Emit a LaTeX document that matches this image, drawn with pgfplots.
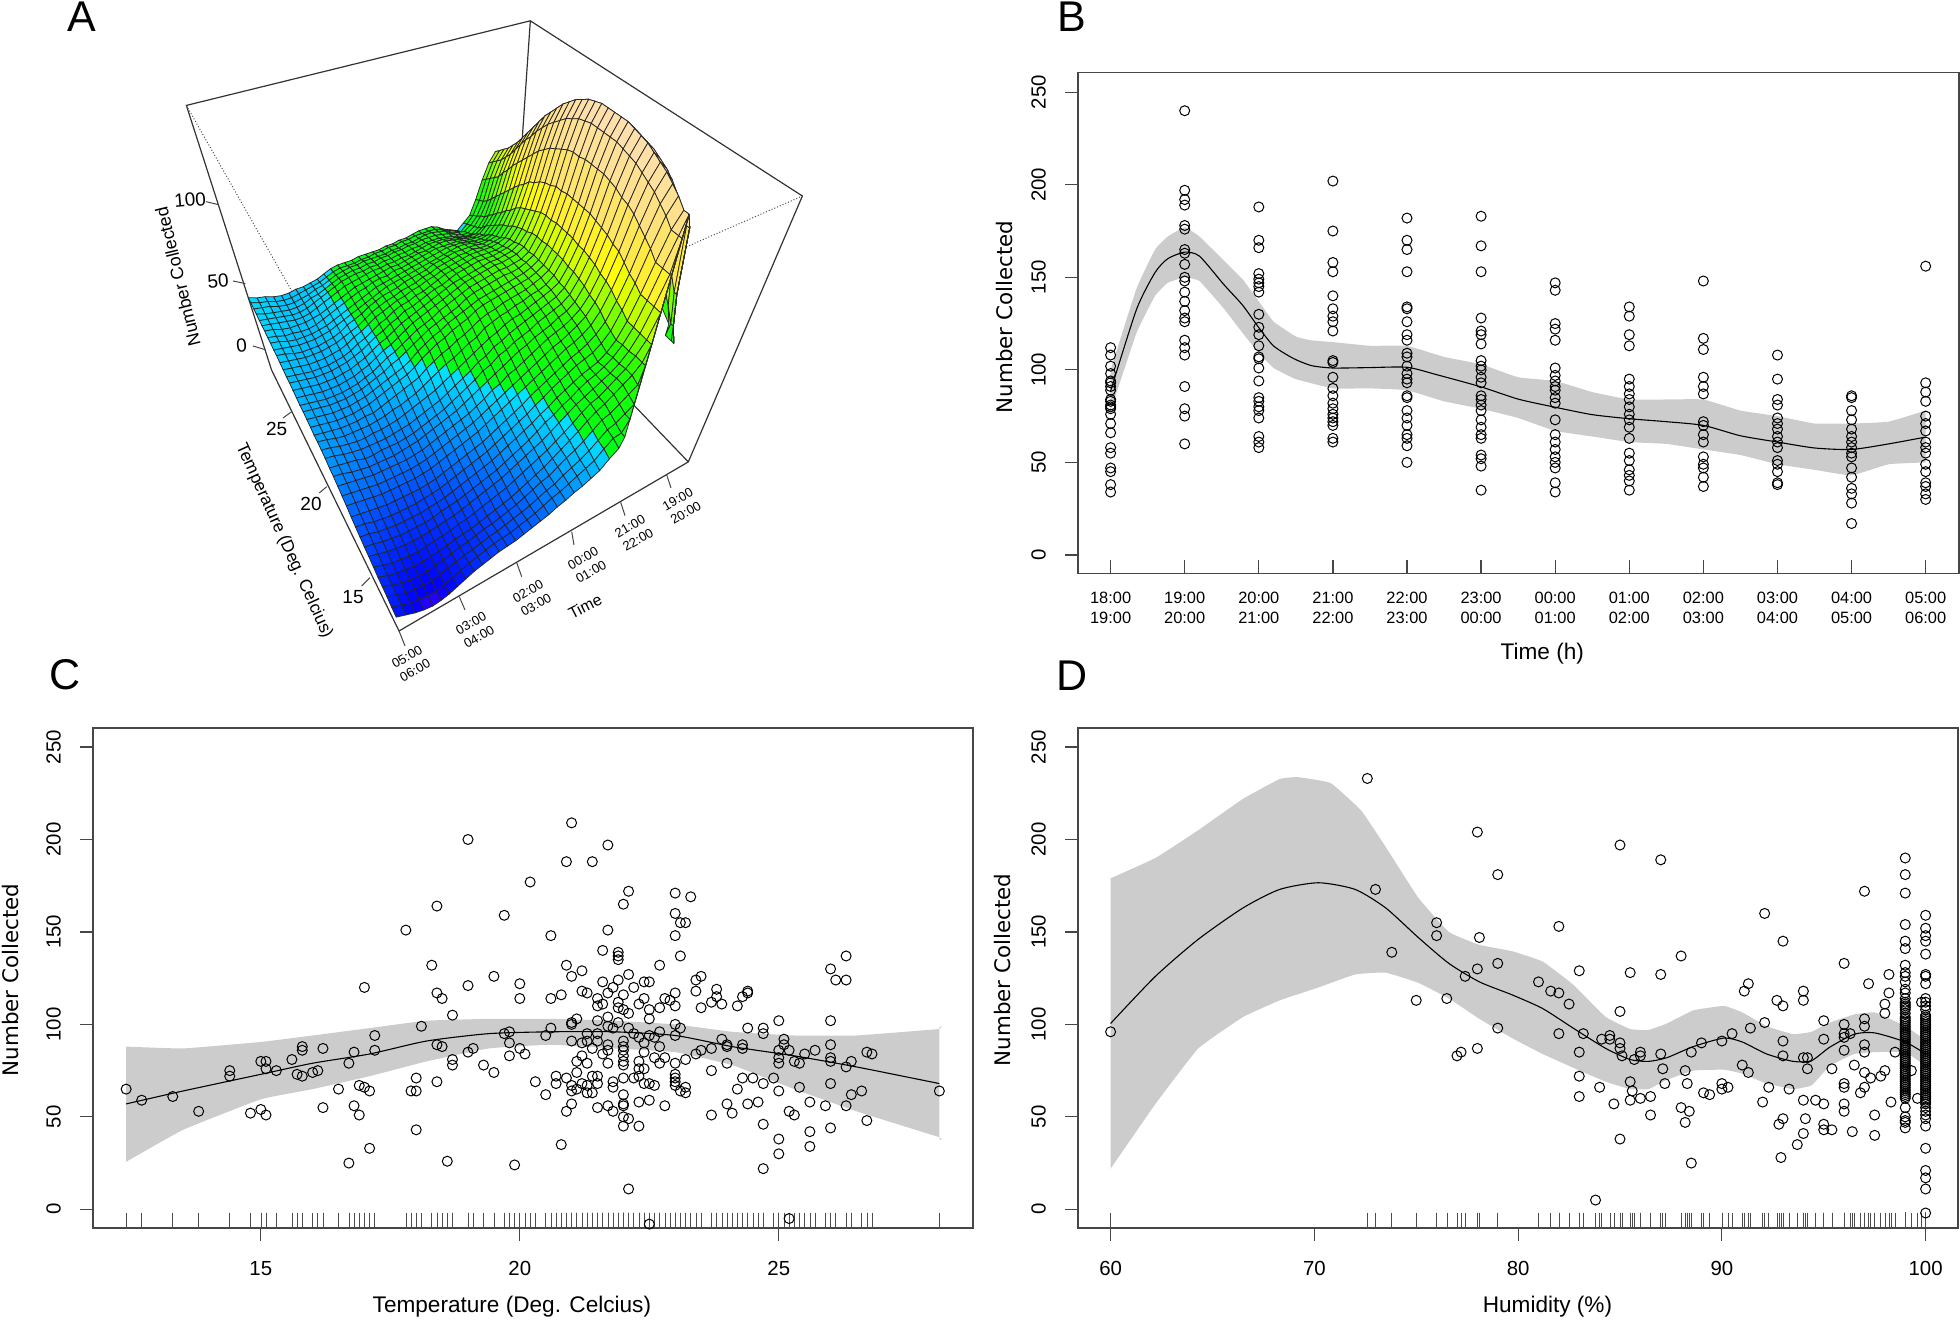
\documentclass[border=0pt]{standalone}
\usepackage{pgfplots}
\usepackage{pgfplotstable}
\pgfplotsset{compat=1.18}
\usepackage{fontspec}
\setmainfont{Liberation Sans}
\newfontfamily\djv{DejaVu Sans}
\definecolor{band}{RGB}{204,204,204}
\definecolor{axc}{RGB}{70,70,70}
\def\U{((40-mod(\coordindex,41))/40)}
\def\V{(min(floor(\coordindex/41)/40,max(.81,min(1,1-.76*(\U-.66)))))}
\def\W{(.11+.00598*\thisrow{z})}
\tikzset{
 xl/.style={font=\fontsize{11.3}{13}\selectfont,anchor=center},
 yl/.style={font=\djv\fontsize{10.7}{13}\selectfont,anchor=center,rotate=90}}
\pgfplotsset{
 panel/.style={scale only axis, width=440pt, height=250pt, axis line style={draw=axc,line width=.7pt},
  tick style={draw=axc,line width=.6pt}, tick align=outside, major tick length=6.5pt, xtick pos=bottom, ytick pos=left,
  ymin=-10.1, ymax=260.3, ytick={0,50,...,250},
  /pgf/number format/assume math mode=true,
  tick label style={font=\fontsize{10.2}{12}\selectfont},
  yticklabel style={xshift=-6pt,rotate=90,anchor=south},
  xticklabel style={yshift=-6.7pt},
  ylabel={Number Collected}},
 pts/.style={only marks, mark=o, mark size=2.5pt, mark options={draw=black,line width=.5pt,fill=none}},
 rug/.style={only marks, mark=|, mark size=3.75pt, mark options={draw=black!70,line width=.3pt}},
 fit/.style={black, line width=.55pt, smooth, tension=.4, no marks},
 bandf/.style={fill=band, draw=none, no marks, smooth, tension=.2}
}
\pgfplotstableread{
i n
0 112
0 108
0 102
0 98
0 94
0 93
0 91
0 89
0 84
0 83
0 81
0 80
0 79
0 76
0 71
0 66
0 58
0 55
0 47
0 45
0 38
0 34
1 240
1 197
1 192
1 189
1 178
1 176
1 165
1 163
1 157
1 150
1 148
1 142
1 137
1 132
1 128
1 126
1 116
1 112
1 108
1 91
1 79
1 75
1 60
2 188
2 170
2 166
2 152
2 149
2 147
2 145
2 142
2 130
2 123
2 119
2 113
2 107
2 106
2 101
2 94
2 85
2 83
2 80
2 78
2 74
2 64
2 61
2 58
3 202
3 175
3 158
3 153
3 140
3 133
3 129
3 126
3 121
3 105
3 104
3 96
3 90
3 86
3 82
3 79
3 76
3 74
3 72
3 70
3 63
3 61
4 182
4 170
4 165
4 153
4 134
4 133
4 126
4 119
4 116
4 109
4 107
4 102
4 98
4 95
4 93
4 86
4 85
4 78
4 74
4 70
4 65
4 63
4 59
4 50
5 183
5 167
5 153
5 128
5 121
5 119
5 114
5 105
5 102
5 100
5 96
5 93
5 86
5 84
5 81
5 78
5 73
5 69
5 65
5 63
5 54
5 52
5 48
5 35
6 147
6 143
6 125
6 122
6 116
6 101
6 97
6 94
6 91
6 89
6 85
6 82
6 73
6 65
6 61
6 57
6 53
6 50
6 47
6 39
6 34
7 134
7 129
7 119
7 113
7 95
7 91
7 87
7 84
7 80
7 76
7 73
7 69
7 63
7 55
7 51
7 46
7 43
7 40
7 35
8 148
8 117
8 111
8 96
8 91
8 87
8 72
8 70
8 65
8 61
8 53
8 49
8 47
8 42
8 37
9 108
9 95
9 84
9 81
9 74
9 71
9 68
9 64
9 61
9 58
9 51
9 49
9 45
9 39
9 38
10 86
10 85
10 78
10 73
10 68
10 64
10 61
10 58
10 55
10 53
10 47
10 42
10 36
10 33
10 28
10 17
11 156
11 93
11 88
11 83
11 75
11 71
11 67
11 61
11 58
11 55
11 49
11 45
11 39
11 37
11 33
11 30
}\tabB
\pgfplotstableread{
t n
12.4 65
12.7 59
13.3 61
13.8 53
14.4 75
14.4 72
14.8 52
15 54
15 80
15.1 80
15.1 76
15.1 51
15.3 75
15.6 81
15.7 73
15.8 72
15.8 86
15.8 88
16 74
16.1 75
16.2 87
16.2 55
16.5 65
16.7 79
16.7 25
16.8 85
16.8 56
16.9 67
16.9 51
17 120
17 66
17.1 64
17.1 33
17.2 94
17.2 86
17.8 151
17.9 64
18 64
18 71
18 43
18.1 99
18.3 132
18.4 164
18.4 117
18.4 89
18.4 69
18.5 114
18.5 88
18.6 26
18.7 81
18.7 78
18.7 105
19 200
19 121
19 85
19.1 87
19.3 78
19.5 126
19.5 74
19.7 159
19.7 95
19.8 96
19.8 90
19.8 83
19.9 24
20 122
20 114
20 87
20.1 84
20.2 177
20.3 69
20.5 94
20.5 62
20.6 148
20.6 114
20.6 98
20.7 72
20.7 68
20.8 116
20.8 35
20.9 188
20.9 132
20.9 71
20.9 53
21 209
21 126
21 101
21 100
21 91
21 67
21 64
21 57
21.1 103
21.1 80
21.1 74
21.1 65
21.2 129
21.2 118
21.2 90
21.2 83
21.2 68
21.3 117
21.3 95
21.3 91
21.3 79
21.3 67
21.3 63
21.4 188
21.4 87
21.4 72
21.4 63
21.5 114
21.5 110
21.5 102
21.5 95
21.5 91
21.5 72
21.5 68
21.5 55
21.6 140
21.6 123
21.6 111
21.6 84
21.7 197
21.7 151
21.7 117
21.7 104
21.7 99
21.7 89
21.7 86
21.7 79
21.7 56
21.8 120
21.8 98
21.8 69
21.8 66
21.8 53
21.9 139
21.9 137
21.9 135
21.9 124
21.9 112
21.9 109
21.9 101
22 165
22 116
22 108
22 91
22 88
22 86
22 83
22 80
22 78
22 71
22 62
22 57
22 56
22 50
22 45
22.1 172
22.1 127
22.1 106
22.1 98
22.1 49
22.1 11
22.2 120
22.2 95
22.2 71
22.3 111
22.3 93
22.3 80
22.3 76
22.3 72
22.3 58
22.3 45
22.4 123
22.4 114
22.4 90
22.4 85
22.4 76
22.4 68
22.5 123
22.5 108
22.5 103
22.5 94
22.5 68
22.5 59
22.5 -8
22.6 93
22.6 82
22.6 67
22.7 132
22.7 109
22.7 96
22.7 88
22.7 79
22.8 114
22.8 82
22.8 56
22.9 113
23 171
23 160
23 148
23 117
23 110
23 100
23 94
23 79
23 73
23 71
23 69
23 67
23.1 155
23.1 137
23.1 98
23.1 64
23.2 155
23.2 81
23.2 66
23.2 63
23.3 169
23.4 124
23.4 118
23.4 84
23.5 126
23.5 109
23.5 86
23.7 112
23.7 87
23.7 75
23.7 51
23.8 119
23.8 115
23.9 111
23.9 92
24 89
24 88
24 79
24 57
24.1 52
24.2 110
24.2 65
24.3 115
24.3 89
24.3 87
24.3 71
24.4 118
24.4 117
24.4 98
24.4 57
24.5 71
24.6 58
24.7 98
24.7 95
24.7 68
24.7 46
24.7 22
24.9 71
25 102
25 86
25 82
25 79
25 64
25 38
25 30
25.1 92
25.1 89
25.2 86
25.2 53
25.2 -5
25.3 80
25.3 51
25.4 79
25.4 66
25.5 84
25.6 58
25.6 42
25.6 34
25.7 86
25.9 56
26 130
26 102
26 89
26 82
26 80
26 68
26 44
26.1 124
26.3 137
26.3 124
26.3 77
26.3 56
26.4 80
26.4 62
26.6 64
26.7 85
26.7 48
26.8 84
28.1 64
}\tabC
\pgfplotstableread{
h n
60 96
72.6 233
73 173
73.8 139
75 113
76 155
76 148
76.5 114
77 83
77.2 85
77.4 126
78 204
78 130
78 87
78.1 147
79 181
79 133
79 98
81 123
81.6 118
82 153
82 117
82 95
82.5 111
83 85
83 129
83 72
83 61
83.2 95
83.8 5
84 66
84.1 92
84.5 94
84.5 92
84.7 57
85 197
85 38
85 107
85 90
85 87
85.1 83
85.5 128
85.5 69
85.6 64
85.5 59
85.7 81
86 85
86 83
86 60
86.5 61
86.5 51
87 189
87 127
87 84
87.1 76
87.2 68
88 137
88 55
88.2 75
88.2 47
88.3 68
88.4 53
88.5 85
88.5 25
89 90
89.1 63
89.4 62
90 91
90 68
90 65
90.3 66
90.5 95
91 78
91.1 118
91.3 122
91.3 74
91.4 98
92 58
92.1 160
92.1 101
92.3 66
92.7 113
92.8 46
92.9 28
93 145
93 110
93 91
93 83
93 49
93.3 65
93.7 35
94 118
94 113
94 82
94 59
94 41
94.2 82
94.2 76
94.1 49
94.6 59
95 102
95 92
95 57
95 46
95 43
95.4 76
95.4 43
96 133
96 100
96 95
96 93
96 86
96 68
96 66
96 57
96 53
96.3 95
96.4 42
96.5 78
96.8 63
97 172
97 103
97 99
97 89
97 85
97 74
97 66
97.2 122
97.3 71
97.5 51
97.5 40
97.8 72
98 75
98 111
98 106
98.2 127
98.2 117
98.3 58
98.5 85
99.3 75
99.6 60
99.8 112
99 190
99 181
99 171
99 154
99 145
99 141
99 132
99 128
99 126
99 123
99 119
99 117
99 114
99 111
99 109
99 106
99 103
99 101
99 99
99 97
99 95
99 93
99 91
99 89
99 87
99 85
99 83
99 81
99 79
99 77
99 75
99 73
99 71
99 69
99 67
99 65
99 63
99 61
99 60
99 55
99 50
99 48
99 47
99 44
99 112
99 110
99 108
99 104
99 102
99 100
99 98
99 96
99 94
99 92
99 90
99 88
99 86
99 84
99 82
99 80
99 78
99 76
99 74
99 72
99 70
99 68
99 66
99 64
99 62
100 159
100 152
100 148
100 145
100 138
100 127
100 126
100 122
100 114
100 112
100 110
100 108
100 105
100 103
100 101
100 99
100 97
100 95
100 93
100 91
100 89
100 87
100 85
100 83
100 81
100 79
100 77
100 75
100 73
100 71
100 69
100 67
100 65
100 63
100 61
100 59
100 57
100 55
100 53
100 51
100 49
100 45
100 33
100 21
100 17
100 11
100 -2
100 104
100 102
100 100
100 98
100 96
100 94
100 92
100 90
100 88
100 86
100 84
100 82
100 80
100 78
100 76
100 74
100 72
100 70
100 68
100 66
100 64
100 62
100 60
100 58
}\tabD
\begin{document}
\begin{tikzpicture}
\path[use as bounding box] (0,0) rectangle (980pt,660pt);
% ---------- Panel A
\begin{axis}[at={(0pt,320pt)},anchor=south west,scale only axis,width=420pt,height=340pt,
 xmin=0,xmax=840,ymin=640,ymax=1320,zmin=-100,zmax=200,view={0}{90},hide axis,clip=false,
 colormap={topo}{rgb255(0pt)=(60,0,255); rgb255(2pt)=(0,0,255); rgb255(12pt)=(0,70,255); rgb255(22pt)=(0,145,255); rgb255(33.3pt)=(0,229,255); rgb255(33.4pt)=(0,255,20); rgb255(48pt)=(30,255,0); rgb255(58pt)=(160,255,0); rgb255(66pt)=(255,255,0); rgb255(72pt)=(255,235,60); rgb255(85pt)=(255,225,130); rgb255(100pt)=(255,224,179)},
 point meta min=-12, point meta max=148]
\addplot3[black!80,line width=.6pt,no marks] coordinates {(271.6,950,0) (186.4,1214.6,0) (530.4,1299.2,0) (802.5,1124,0) (688.4,858.1,0) (399.1,689,0) (271.6,950,0)};
\addplot3[black!80,line width=.6pt,no marks] coordinates {(530.4,1299.2,0) (512.7,1041.1,0) (688.4,858.1,0)};
\addplot3[black!70,line width=.5pt,densely dotted,no marks] coordinates {(186.4,1214.6,0) (350.3,925.8,0) (802.5,1124,0)};
\addplot3[surf,shader=faceted,faceted color=black!85,line width=.38pt,mesh/rows=41,mesh/cols=41,z buffer=none,point meta=\thisrow{z}]
 table[x expr={(271.6+318*\U+23.7*\V-141.1*\W)/(1+.15*\U-.26*\V-.3*\W)},
       y expr={1320-(370-49.3*\U+96.9*\V-296.2*\W)/(1+.15*\U-.26*\V-.3*\W)},z=z]{
z
55
60
68
80
84
78
68
56
46
42
38
40
42
45
47
47
47
46
45
45
44
44
43
43
43
43
42
42
42
41
39
37
36
35
35
34
34
35
37
38
40
57
62
71
84
87
81
71
58
49
44
40
42
44
46
48
48
48
48
47
47
46
46
45
45
44
44
43
43
43
42
40
38
37
36
35
34
34
35
37
38
40
59
64
73
87
90
84
74
60
51
46
43
44
45
48
49
50
50
49
48
48
47
47
46
46
46
46
45
45
44
43
41
39
38
36
35
34
34
35
37
38
39
60
66
76
90
93
87
77
63
54
48
45
45
47
49
50
51
51
51
50
50
49
49
48
48
47
47
46
46
45
44
42
40
38
37
35
34
34
35
36
37
39
62
68
78
94
97
91
80
67
56
50
47
47
48
50
51
52
52
52
51
51
50
50
49
49
48
48
47
47
46
45
43
41
39
37
35
34
34
35
36
37
38
65
71
82
98
101
95
85
71
60
53
50
50
50
52
53
54
54
54
53
52
51
51
50
50
49
49
48
47
46
45
43
41
39
37
35
34
34
35
36
37
38
67
74
86
103
106
100
89
75
63
57
53
52
53
54
55
56
56
55
54
54
53
52
51
51
50
49
48
47
46
44
42
40
38
36
35
34
34
34
35
37
38
70
77
90
108
111
105
94
79
67
60
55
55
55
56
57
57
57
57
56
55
54
53
52
52
50
50
49
47
46
44
42
40
38
36
34
33
33
34
34
36
37
72
80
94
113
116
110
98
83
70
63
58
57
57
58
59
59
59
58
57
56
55
54
53
52
51
50
49
47
45
43
41
39
37
35
34
33
33
33
34
36
37
75
83
98
118
121
114
102
87
74
66
61
59
59
60
61
61
60
59
58
57
56
55
54
53
52
51
49
47
45
43
41
39
37
35
34
33
33
33
34
35
36
77
86
102
123
126
119
106
91
77
69
63
62
61
62
62
62
62
61
60
59
57
56
55
54
52
51
50
48
46
43
41
39
36
34
33
32
32
32
33
35
36
80
89
106
127
130
123
110
94
81
71
65
64
63
63
64
63
63
62
61
60
58
57
55
54
53
51
50
48
46
43
40
38
36
34
33
32
32
32
33
34
35
82
92
110
131
134
127
114
98
84
74
68
66
65
65
65
65
64
63
62
61
59
58
56
55
53
52
50
48
46
43
40
38
35
33
32
31
31
31
32
33
34
84
94
113
135
138
130
117
100
86
76
70
67
66
66
66
66
65
64
63
62
60
58
56
55
53
52
50
47
45
42
39
37
34
32
31
30
30
30
31
32
33
85
96
115
138
141
133
120
103
88
78
71
69
68
67
67
67
66
65
64
62
60
59
57
55
53
52
49
47
44
42
39
36
34
32
31
30
30
30
31
32
33
87
98
118
140
144
136
122
105
90
79
73
70
69
68
68
67
66
65
64
63
61
59
57
55
53
51
49
46
43
41
38
35
33
31
30
29
29
29
30
31
32
88
100
120
142
146
138
124
106
92
81
74
71
70
69
69
68
67
66
65
63
61
59
57
55
53
51
48
45
42
40
37
34
32
30
29
28
28
28
29
30
31
88
100
120
144
148
140
126
108
93
82
74
71
70
69
69
68
67
66
65
63
61
59
57
54
52
50
47
44
41
39
36
33
31
29
28
27
27
27
28
29
30
89
101
121
145
149
141
127
108
93
82
75
72
70
69
69
68
67
66
65
63
60
58
56
54
52
49
46
43
40
38
35
33
31
29
28
27
27
27
28
29
30
89
101
121
146
150
142
127
109
94
83
75
72
70
69
68
67
66
65
64
62
60
58
56
53
51
48
45
41
38
36
34
32
30
28
27
26
26
26
27
28
29
89
101
121
146
150
142
128
109
94
83
75
72
70
69
68
67
66
65
64
62
59
57
55
52
50
47
44
40
37
35
33
31
29
27
26
25
25
25
26
27
28
88
101
121
146
150
142
128
109
94
83
75
72
70
68
67
66
65
63
62
60
57
54
52
49
47
44
41
37
35
33
31
29
27
25
25
24
24
24
25
26
27
88
100
121
146
150
142
128
109
94
83
75
71
69
68
66
65
63
62
60
58
54
52
49
46
44
41
38
35
32
30
28
27
25
24
23
23
23
23
24
26
27
87
100
120
146
150
142
128
109
93
82
74
71
69
67
65
63
62
60
57
55
52
49
46
43
40
37
34
32
30
28
26
24
23
22
22
21
21
22
23
25
26
86
99
120
145
149
141
127
108
93
82
74
70
68
66
64
62
60
58
55
53
49
47
43
40
37
34
31
29
27
25
23
22
21
20
20
20
20
21
22
24
25
84
97
119
144
148
140
126
107
92
81
73
69
67
65
63
60
58
56
53
51
47
45
41
38
35
32
29
27
25
23
21
20
19
19
19
18
18
20
21
22
23
82
96
117
143
147
139
124
106
91
80
72
68
66
63
61
59
56
54
51
48
45
42
39
36
33
30
28
26
24
22
20
19
18
17
17
17
17
18
19
21
22
80
94
116
141
145
137
123
104
89
78
71
67
64
62
60
57
54
51
48
46
42
40
36
33
30
28
26
24
22
20
18
17
16
16
16
16
16
17
18
19
20
78
92
114
139
143
135
121
103
88
77
70
66
63
60
58
55
52
49
46
43
40
37
34
31
28
26
24
22
20
18
16
15
14
14
14
14
14
15
16
17
18
70
85
107
136
141
133
118
100
86
75
68
64
61
59
56
53
50
47
44
41
38
35
32
29
26
24
22
20
18
16
14
13
12
12
12
12
12
13
14
15
16
63
77
99
132
138
130
115
97
83
72
66
62
59
57
54
51
48
45
42
38
35
32
29
26
23
21
19
17
15
13
11
10
9
9
9
9
9
10
11
12
13
56
70
92
128
135
127
112
95
81
70
64
60
58
56
53
50
47
43
40
36
33
30
27
24
21
19
17
15
13
11
9
8
7
6
6
6
6
7
8
10
11
48
62
84
122
131
123
108
92
78
68
62
58
56
54
51
48
45
41
38
34
31
28
25
22
19
17
15
13
11
9
7
6
5
4
4
4
4
5
6
8
9
48
62
84
122
131
123
108
92
78
69
63
59
56
54
51
47
44
40
37
33
29
26
23
20
17
15
13
11
9
7
6
5
3
2
2
2
2
3
4
6
7
48
62
84
122
131
123
108
92
78
69
63
59
56
53
50
47
43
39
35
31
28
25
22
19
16
14
12
10
8
6
4
3
2
1
0
0
0
1
2
4
6
48
62
84
122
131
123
108
92
78
70
64
60
56
52
50
46
41
37
33
29
26
23
20
17
14
12
10
8
6
4
3
1
0
-1
-2
-3
-3
-2
-1
1
4
48
62
84
122
131
123
108
92
78
70
64
60
56
52
49
45
40
36
32
28
24
21
18
15
12
10
8
6
4
2
1
0
-2
-3
-4
-5
-5
-4
-3
-1
2
48
62
84
122
131
123
108
92
78
70
62
58
54
50
48
43
38
34
31
27
23
21
18
15
12
10
8
6
5
3
1
0
-2
-4
-5
-7
-7
-6
-5
-2
1
48
62
84
122
131
123
108
92
78
70
62
56
52
48
46
41
36
32
29
26
22
20
17
14
12
10
8
6
5
3
1
0
-2
-4
-6
-8
-8
-7
-6
-3
0
48
62
84
122
131
123
108
92
78
70
62
56
52
46
45
40
34
31
28
25
22
20
17
14
12
10
8
7
6
4
2
0
-3
-5
-8
-10
-10
-9
-8
-5
-2
48
62
84
122
131
123
108
92
78
70
62
56
52
46
43
38
32
29
26
24
21
19
16
14
12
10
8
7
6
4
2
0
-3
-6
-9
-11
-12
-11
-9
-6
-3
};
\end{axis}
% ---------- Panel B
\begin{axis}[panel,at={(539pt,373.25pt)},anchor=south west,width=440.5pt,height=250.45pt,
 xmin=-.44,xmax=11.45,ymin=-10,ymax=260.6,
 xtick={0,...,11},
 xticklabels={{18:00\\19:00},{19:00\\20:00},{20:00\\21:00},{21:00\\22:00},{22:00\\23:00},{23:00\\00:00},{00:00\\01:00},{01:00\\02:00},{02:00\\03:00},{03:00\\04:00},{04:00\\05:00},{05:00\\06:00}},
 x tick style={yshift=6.5pt},
 xticklabel style={align=center,font=\fontsize{8.2}{10}\selectfont,yshift=7.5pt},
 xlabel={Time (h)},
 every axis x label/.style={at={(axis description cs:.527,-.16)},xl},
 every axis y label/.style={at={(axis description cs:-.083,.512)},yl}]
\addplot[bandf] coordinates {(0,100)(0,100)(.35,144)(.6,165)(.77,172)(1,177)(1.2,172)(1.53,159)(1.78,149)(2,137)(2.2,126)(2.5,118)(2.7,116)(3,115)(3.5,113)(4,113)(4.5,107)(5,103)(5.5,96)(6,94)(6.5,88)(7,84)(7.5,84)(8,84)(8.5,78)(9,75)(9.5,71)(10,71)(10.5,72)(11,78)(11,78)
 (11,50)(11,50)(10.5,49)(10,43)(9.5,46)(9,49)(8.5,54)(8,57)(7.5,60)(7,61)(6.5,64)(6,67)(5.5,74)(5,79)(4.5,83)(4,89)(3.5,90)(3,90)(2.5,95)(2.2,101)(2,109)(1.78,120)(1.53,133)(1.2,148)(1,150)(.77,147)(.6,140)(.35,120)(0,78)(0,78)} -- cycle;
\addplot[pts] table[x=i,y=n] {\tabB};
\addplot[fit] coordinates {(0,88.6)(.35,132.7)(.6,152.6)(.77,160)(1,163.6)(1.2,161.4)(1.53,146)(1.78,135)(2,122.8)(2.2,112.9)(2.46,106.3)(2.71,102.3)(3,101)(3.47,101.2)(4,101.4)(4.4,97.4)(5,90.8)(5.5,84.2)(6,79.8)(6.5,75.8)(7,73.6)(7.5,72)(8,70)(8.5,64.4)(9,61)(9.5,57.8)(10,57)(10.5,60)(11,63.7)};
\end{axis}
% ---------- Panel C
\begin{axis}[panel,at={(46.5pt,46pt)},anchor=south west,
 xmin=11.76,xmax=28.75,xtick={15,20,25},
 xlabel={Temperature (Deg. Celcius)},
 every axis x label/.style={at={(axis description cs:.476,-.158)},xl},
 every axis y label/.style={at={(axis description cs:-.094,.496)},yl}]
\addplot[bandf] coordinates {(12.4,88)(12.4,88)(13.5,87)(15,90.5)(16,94)(17.1,98)(18.2,102)(19.4,103)(20.6,103)(21.8,102)(23,100)(24.1,96)(25.3,94)(26.5,94)(28.1,97.5)(28.1,97.5)
 (28.1,39)(28.1,39)(26.5,53)(25.3,65)(24.1,78)(23,85)(21.8,87)(20.6,89)(19.4,87)(18.2,80)(17.1,72)(16,65)(15,59.5)(13.5,43)(12.4,25.7)(12.4,25.7)} -- cycle;
\addplot[rug] table[x=t,y expr=-5.9] {\tabC};
\addplot[pts] table[x=t,y=n] {\tabC};
\addplot[fit] coordinates {(12.4,57)(13.5,64)(15,73)(16,79)(17.1,84)(18.2,91)(19.4,95)(20.6,96)(21.8,96)(23,94)(24.1,88)(25.3,83)(26.5,77)(28.1,68)};
\end{axis}
% ---------- Panel D
\begin{axis}[panel,at={(539pt,46pt)},anchor=south west,
 xmin=58.4,xmax=101.59,xtick={60,70,80,90,100},
 xlabel={Humidity (\%)},
 every axis x label/.style={at={(axis description cs:.5335,-.158)},xl},
 every axis y label/.style={at={(axis description cs:-.086,.516)},yl}]
\addplot[bandf] coordinates {(60,179)(60,179)(62.2,190)(64.3,205)(66.5,222)(68.3,232.7)(69.2,233.7)(70.8,230.5)(72.3,215.6)(73.5,196)(75.1,168.5)(76.6,150)(78.1,143)(79.7,139.6)(81.2,134)(82.7,121.5)(84.3,104)(85.5,97.5)(86.4,97)(87.3,100.5)(88.6,107.6)(90.1,110)(91,106.5)(92.2,99)(93.5,94.7)(94.4,96)(95.3,101)(96.5,105.4)(97.5,106.5)(99,99)(100,91.5)(100,91.5)
 (100,77.6)(100,77.6)(99,85)(97.5,85)(96.5,84)(95.3,77.6)(94.4,67)(93.5,65)(92.2,68)(91,73.4)(90.1,75.5)(88.6,75)(87.3,70)(86.4,65)(85.5,65)(84.3,69)(82.7,76.6)(81.2,84)(79.7,92.6)(78.1,103)(76.6,114)(75.1,122.5)(73.5,128)(72,127)(70.2,120)(68.3,113)(66.5,104)(64.3,87)(62.2,57)(60,22)(60,22)} -- cycle;
\addplot[rug] table[x=h,y expr=-5.9] {\tabD};
\addplot[pts] table[x=h,y=n] {\tabD};
\addplot[fit] coordinates {(60,100.5)(62.2,126)(64.3,146)(66.5,163)(68.3,173)(70.2,176.6)(72,173)(73.5,163)(75.1,147)(76.6,133)(78.1,123)(79.7,116)(81.2,108.6)(82.7,98)(84.3,87)(85.5,81)(86.4,80)(87.3,82)(88.6,88)(90.1,92.6)(91,90.5)(92.2,84)(93.5,80)(94.4,80.4)(95.3,87.7)(96.5,94.7)(97.5,95.4)(99,90.5)(100,84)};
\end{axis}
% ---------- furniture in pixel coordinates
\begin{scope}[x=.5pt,y=-.5pt,yshift=660pt]
\foreach \l/\x/\y in {A/82/17,B/1072/17,C/65/675,D/1072/676}
 \node[font=\fontsize{21.5}{22}\selectfont] at (\x,\y) {\l};
\draw[axc,line width=.5pt] (206,201.7)--(218.6,204.7) (233,281)--(245.4,283.6) (252.9,346)--(265,349.6)
 (283,418)--(291.7,411.7) (319.3,493)--(326.7,486.7) (361.7,586)--(370,577.7)
 (459.3,596.7)--(465,610) (516.7,562.7)--(521.7,576.7) (571.7,531.7)--(574,545) (620.7,502.3)--(625,515.7) (666.7,475)--(671,488) (399,631)--(405,646);
\tikzset{a9/.style={font=\fontsize{9.5}{11}\selectfont,inner sep=0pt}}
\node[a9,rotate=5] at (190,200) {100};
\node[a9,rotate=5] at (218,280.6) {50};
\node[a9,rotate=5] at (241.6,346) {0};
\node[a9] at (276.7,429) {25};
\node[a9] at (311,504) {20};
\node[a9] at (353,596.7) {15};
\node[a9,font=\fontsize{8.9}{10}\selectfont,rotate=103.7] at (177.8,276.7) {Number Collected};
\node[a9,font=\fontsize{8.6}{10}\selectfont,rotate=-65.5] at (284,541) {Temperature (Deg. Celcius)};
\node[a9,font=\fontsize{8}{10}\selectfont,rotate=27] at (585,606.7) {Time};
\tikzset{tl/.style={font=\fontsize{6.5}{8}\selectfont,align=center,rotate=30,inner sep=0pt}}
\node[tl] at (681.7,506) {19:00\\20:00};
\node[tl] at (634,533) {21:00\\22:00};
\node[tl] at (587,565) {00:00\\01:00};
\node[tl] at (532,598) {02:00\\03:00};
\node[tl] at (475,630) {03:00\\04:00};
\node[tl] at (411,663.6) {05:00\\06:00};
\end{scope}
\end{tikzpicture}
\end{document}
